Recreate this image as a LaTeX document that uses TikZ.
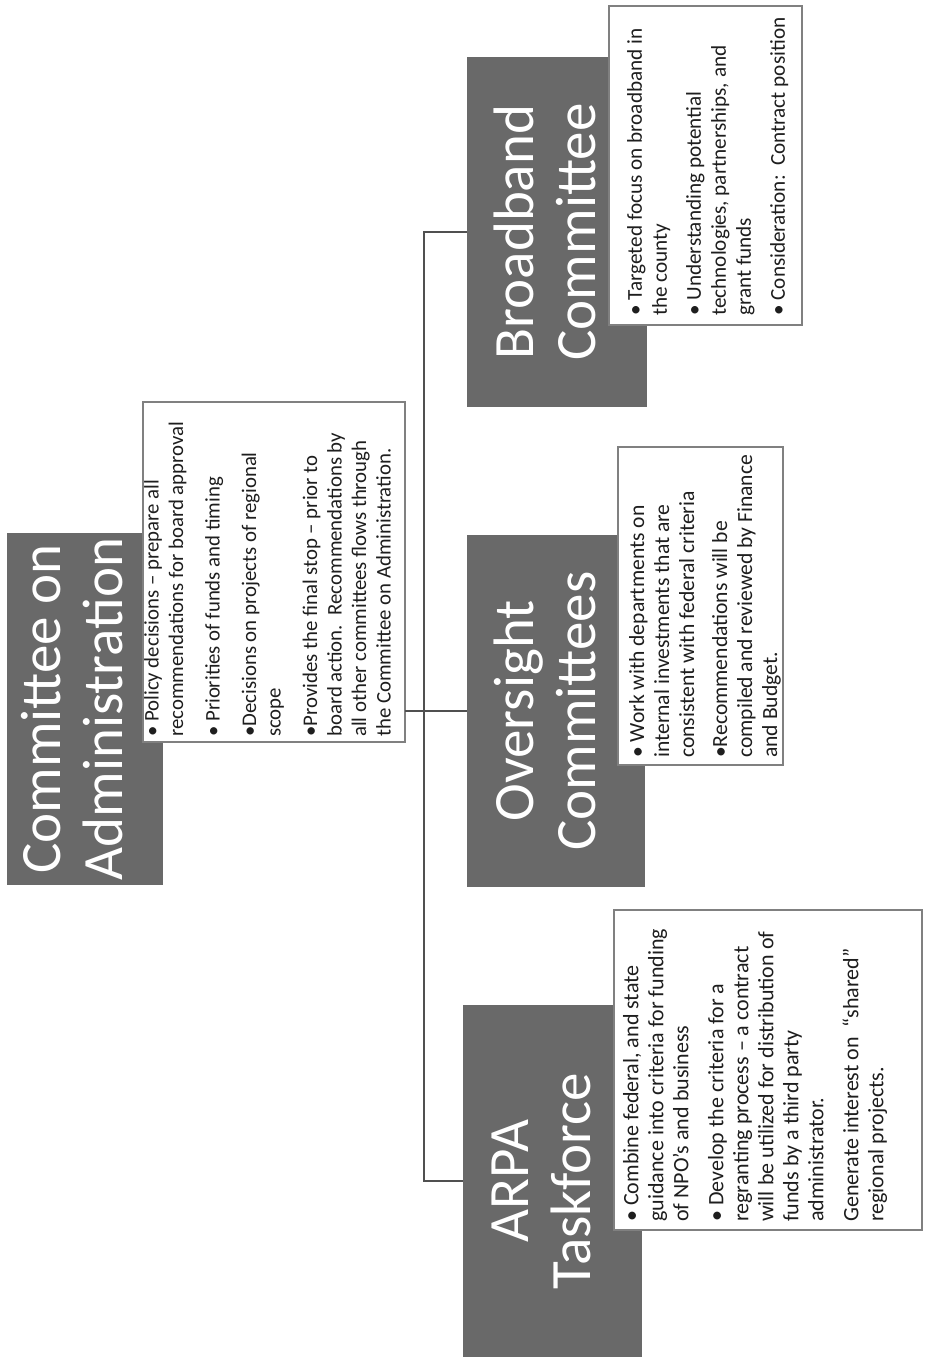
\documentclass[tikz,border=0pt]{standalone}
\usepackage{fontspec}
\setmainfont{Carlito}
\usetikzlibrary{calc}
\definecolor{boxgray}{RGB}{105,105,105}
\definecolor{edgegray}{RGB}{128,128,128}
\definecolor{linegray}{RGB}{80,80,80}
\definecolor{bodytext}{RGB}{30,30,30}
\begin{document}
\begin{tikzpicture}[x=1pt,y=-1pt,
  darkbox/.style={fill=boxgray, draw=none, rotate=90, inner sep=0pt, outer sep=0pt},
  notebox/.style={fill=white, draw=edgegray, line width=1.2pt, rotate=90, inner sep=0pt, outer sep=0pt},
  titletext/.style={text=white, rotate=90, align=center, inner sep=0pt, font=\fontsize{57}{62}\selectfont},
  bodytextstyle/.style={text=bodytext, rotate=90, align=left, inner sep=0pt, anchor=north west, font=\fontsize{22}{25}\selectfont},
  link/.style={draw=linegray, line width=1.3pt}]
\useasboundingbox (0,0) rectangle (924,1362);
\fill[white] (0,0) rectangle (924,1362);

% dark title boxes
\node[darkbox, minimum width=352, minimum height=156] (coa) at (85,709) {};
\node[darkbox, minimum width=350, minimum height=180] (bb) at (557,232) {};
\node[darkbox, minimum width=352, minimum height=178] (ov) at (556,711) {};
\node[darkbox, minimum width=352, minimum height=179] (arpa) at (552.5,1181) {};

% titles
\node[titletext] (coaT) at ($(coa.center)+(-13,0)$) {Committee on\\Administration};
\node[titletext] (bbT) at ($(bb.center)+(-12,0)$) {Broadband\\Committee};
\node[titletext] (ovT) at ($(ov.center)+(-11,0)$) {Oversight\\Committees};
\node[titletext] (arpaT) at ($(arpa.center)+(-11.5,0)$) {ARPA\\Taskforce};

% note boxes
\node[notebox, minimum width=340, minimum height=262] (coaw) at (274,572) {};
\node[notebox, minimum width=319, minimum height=193] (bbw) at (705.5,165.5) {};
\node[notebox, minimum width=318, minimum height=165] (ovw) at (700.5,606) {};
\node[notebox, minimum width=320, minimum height=308] (arpaw) at (768,1070) {};

% note texts
\node[bodytextstyle, font=\fontsize{20.8}{24.5}\selectfont] (coaB) at (144,737) {%
• Policy decisions – prepare all\\
recommendations for board approval\\[12pt]
• Priorities of funds and timing\\[12pt]
•Decisions on projects of regional\\
scope\\[12pt]
•Provides the final stop – prior to\\
board action.\ \ Recommendations by\\
all other committees flows through\\
the Committee on Administration.};

\node[bodytextstyle, font=\fontsize{21.2}{25}\selectfont] (bbB) at (627,316) {%
• Targeted focus on broadband in\\
the county\\[9pt]
• Understanding potential\\
technologies, partnerships, and\\
grant funds\\[9pt]
• Consideration:\ \ Contract position};

\node[bodytextstyle, font=\fontsize{21.6}{25}\selectfont] (ovB) at (629,758) {%
• Work with departments on\\
internal investments that are\\
consistent with federal criteria\\[8pt]
•Recommendations will be\\
compiled and reviewed by Finance\\
and Budget.};

\node[bodytextstyle] (arpaB) at (623,1222) {%
• Combine federal, and state\\
guidance into criteria for funding\\
of NPO’s and business\\[10pt]
• Develop the criteria for a\\
regranting process – a contract\\
will be utilized for distribution of\\
funds by a third party\\
administrator.\\[10pt]
Generate interest on\ \ “shared”\\
regional projects.};

% connectors
\coordinate (jt) at (424,232);
\draw[link] (bb.north) -- (jt) |- (arpa.north);
\draw[link] (coaw.south |- ov.north) -- (ov.north);
\end{tikzpicture}
\end{document}
